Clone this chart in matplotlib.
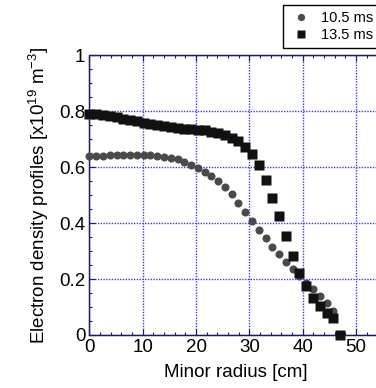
import matplotlib
matplotlib.use("Agg")
import matplotlib.pyplot as plt
from matplotlib.ticker import MultipleLocator

plt.rcParams.update({
    "font.family": ["Liberation Sans", "DejaVu Sans"],
    "font.size": 13.5,
    "mathtext.default": "regular",
})

# ---- data -----------------------------------------------------------------
radius = [0.0, 1.27, 2.54, 3.81, 5.08, 6.35, 7.62, 8.89, 10.16, 11.43,
          12.7, 13.97, 15.24, 16.51, 17.78, 19.05, 20.32, 21.59, 22.86, 24.13,
          25.4, 26.67, 27.94, 29.21, 30.48, 31.75, 33.02, 34.29, 35.56, 36.83,
          38.1, 39.37, 40.64, 41.91, 43.18, 44.45, 45.72, 46.99]

ne_10p5 = [0.638, 0.640, 0.641, 0.642, 0.642, 0.643, 0.643, 0.643, 0.643, 0.642,
           0.640, 0.637, 0.633, 0.627, 0.619, 0.609, 0.597, 0.584, 0.569, 0.551,
           0.530, 0.504, 0.472, 0.440, 0.408, 0.376, 0.346, 0.316, 0.288, 0.260,
           0.235, 0.209, 0.185, 0.165, 0.140, 0.113, 0.085]

ne_13p5 = [0.790, 0.789, 0.786, 0.782, 0.778, 0.773, 0.768, 0.763, 0.758, 0.753,
           0.749, 0.745, 0.742, 0.739, 0.737, 0.735, 0.733, 0.731, 0.727, 0.721,
           0.714, 0.705, 0.692, 0.673, 0.645, 0.607, 0.554, 0.490, 0.425, 0.354,
           0.282, 0.220, 0.176, 0.133, 0.104, 0.077, 0.060, 0.000]

SPINE_C = "#1c1c66"
GRID_C = "#3a3aff"

fig = plt.figure(figsize=(3.76, 3.88), dpi=100)
ax = fig.add_axes([0.238, 0.1366, 0.78, 0.7214])

ax.plot(radius[:len(ne_10p5)], ne_10p5, ls="none", marker="o", ms=5.8,
        color="#4a4a4a", mec="none", label="10.5 ms", clip_on=False, zorder=3)
ax.plot(radius, ne_13p5, ls="none", marker="s", ms=6.6,
        color="#111111", mec="none", label="13.5 ms", clip_on=False, zorder=4)

ax.set_xlim(0, 55)
ax.set_ylim(0, 1)
ax.xaxis.set_major_locator(MultipleLocator(10))
ax.xaxis.set_minor_locator(MultipleLocator(2))
ax.yaxis.set_major_locator(MultipleLocator(0.2))
ax.yaxis.set_minor_locator(MultipleLocator(0.05))
ax.set_yticks([0, 0.2, 0.4, 0.6, 0.8, 1.0])
ax.set_yticklabels(["0", "0.2", "0.4", "0.6", "0.8", "1"])

ax.tick_params(which="both", direction="in", top=True, right=False,
               color=SPINE_C, pad=3)
ax.tick_params(which="major", length=4, width=0.8)
ax.tick_params(which="minor", length=2.5, width=0.8)

for s in ax.spines.values():
    s.set_color(SPINE_C)
    s.set_linewidth(1.0)
    s.set_linestyle((0, (1, 0.6)))

ax.grid(True, which="major", color=GRID_C, ls=(0, (1, 1)), lw=1.0)
ax.set_axisbelow(True)

ax.set_xlabel("Minor radius [cm]", labelpad=6)
ax.set_ylabel("Electron density profiles [x10$^{19}$ m$^{-3}$]", labelpad=6)

fig.legend(loc="upper left", bbox_to_anchor=(283 / 376, 1 - 5 / 388),
           fontsize=10.5, frameon=True, fancybox=False, edgecolor="black",
           framealpha=1, borderpad=0.4, handletextpad=0.6, labelspacing=0.25,
           handlelength=1.6, markerscale=0.9, borderaxespad=0)

fig.savefig("out.png", dpi=100)
